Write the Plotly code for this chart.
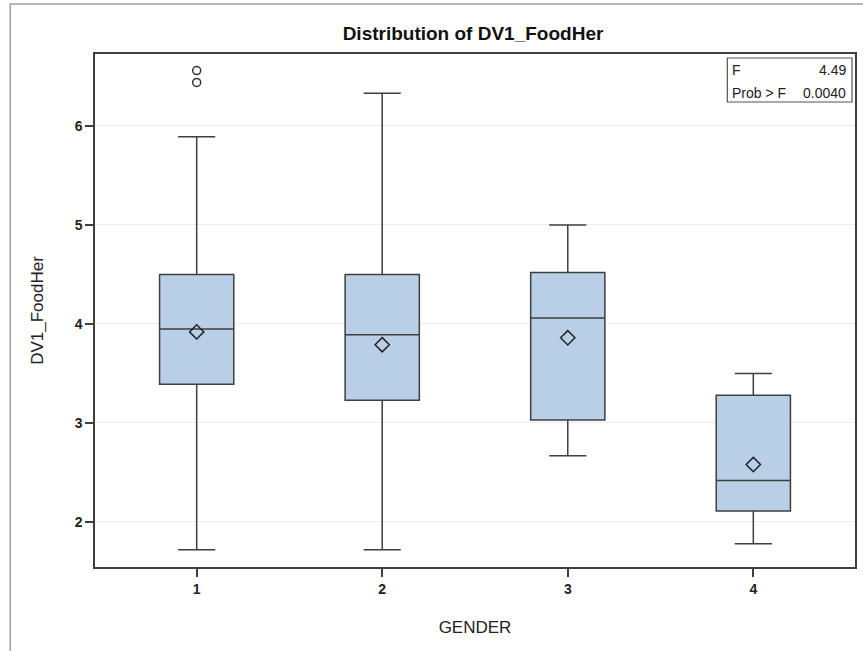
import plotly.graph_objects as go

# ---- data ----
groups = [1, 2, 3, 4]
q1 = [3.39, 3.23, 3.03, 2.11]
median = [3.95, 3.89, 4.06, 2.42]
q3 = [4.50, 4.50, 4.52, 3.28]
lower_whisker = [1.72, 1.72, 2.67, 1.78]
upper_whisker = [5.89, 6.33, 5.00, 3.50]
means = [3.92, 3.79, 3.86, 2.58]
outlier_x = [1, 1]
outlier_y = [6.56, 6.44]
stat_labels = ["F", "Prob > F"]
stat_values = ["4.49", "0.0040"]
y_ticks = [2, 3, 4, 5, 6]

FONT = "Liberation Sans, Arial, sans-serif"
LINE = "#3f3f3f"

fig = go.Figure()
fig.add_trace(go.Box(
    x=groups, q1=q1, median=median, q3=q3,
    lowerfence=lower_whisker, upperfence=upper_whisker,
    width=0.4, whiskerwidth=0.5,
    fillcolor="#b9cfe7", line=dict(color=LINE, width=1.5),
    boxpoints=False, showlegend=False, hoverinfo="skip",
))
fig.add_trace(go.Scatter(
    x=groups, y=means, mode="markers", showlegend=False, hoverinfo="skip",
    marker=dict(symbol="diamond-open", size=11, color="#222222",
                line=dict(width=1.5, color="#222222")),
))
fig.add_trace(go.Scatter(
    x=outlier_x, y=outlier_y, mode="markers", showlegend=False, hoverinfo="skip",
    marker=dict(symbol="circle-open", size=8, color="#333333",
                line=dict(width=1.5, color="#333333")),
))

# plot area in pixels: x 95..857, y 54..567
L, R, T, B = 95, 6, 54, 84
W, H = 863, 651
pw, ph = W - L - R, H - T - B


def px(x):
    return (x - L) / pw


def py(y):
    return (H - B - y) / ph


shapes = [
    # outer frame (left and top edges visible)
    dict(type="path", xref="paper", yref="paper",
         path=f"M {px(10)} {py(700)} L {px(10)} {py(4)} L {px(900)} {py(4)}",
         line=dict(color="#a0a0a0", width=1.5)),
    # stats inset box
    dict(type="rect", xref="paper", yref="paper",
         x0=px(729), x1=px(854), y0=py(102), y1=py(58),
         line=dict(color="#555555", width=1.2), fillcolor="white"),
]

annotations = []
for i, (lab, val) in enumerate(zip(stat_labels, stat_values)):
    yc = [70, 93][i]
    annotations.append(dict(xref="paper", yref="paper", x=px(732), y=py(yc),
                            text=lab, showarrow=False, xanchor="left", yanchor="middle",
                            font=dict(family=FONT, size=14, color="#222")))
    annotations.append(dict(xref="paper", yref="paper", x=px(850), y=py(yc),
                            text=val, showarrow=False, xanchor="right", yanchor="middle",
                            font=dict(family=FONT, size=14, color="#222")))

fig.update_layout(
    width=W, height=H,
    margin=dict(l=L, r=R, t=T, b=B),
    paper_bgcolor="white", plot_bgcolor="white",
    font=dict(family=FONT, color="#222"),
    title=dict(text="<b>Distribution of DV1_FoodHer</b>", xref="container",
               x=473 / W, xanchor="center",
               yref="container", y=1 - 33 / H, yanchor="middle",
               font=dict(family=FONT, size=19, color="#111")),
    shapes=shapes, annotations=annotations,
    xaxis=dict(range=[0.452, 4.548], tickvals=groups,
               ticktext=[f"<b>{g}</b>" for g in groups],
               showgrid=False, zeroline=False, showline=True, linecolor=LINE, linewidth=1.5,
               mirror=True, ticks="outside", ticklen=8, tickcolor=LINE, tickwidth=1.5,
               tickfont=dict(family=FONT, size=14, color="#222"),
               title=dict(text="GENDER", standoff=26, font=dict(family=FONT, size=17, color="#222"))),
    yaxis=dict(range=[1.545, 6.727], tickvals=y_ticks,
               ticktext=[f"<b>{t}</b>" for t in y_ticks],
               showgrid=True, gridcolor="#ececec", gridwidth=1, zeroline=False,
               showline=True, linecolor=LINE, linewidth=1.5, mirror=True,
               ticks="outside", ticklen=8, tickcolor=LINE, tickwidth=1.5,
               tickfont=dict(family=FONT, size=14, color="#222"),
               title=dict(text="DV1_FoodHer", standoff=27, font=dict(family=FONT, size=17, color="#222"))),
)

fig.write_html("out.html")
